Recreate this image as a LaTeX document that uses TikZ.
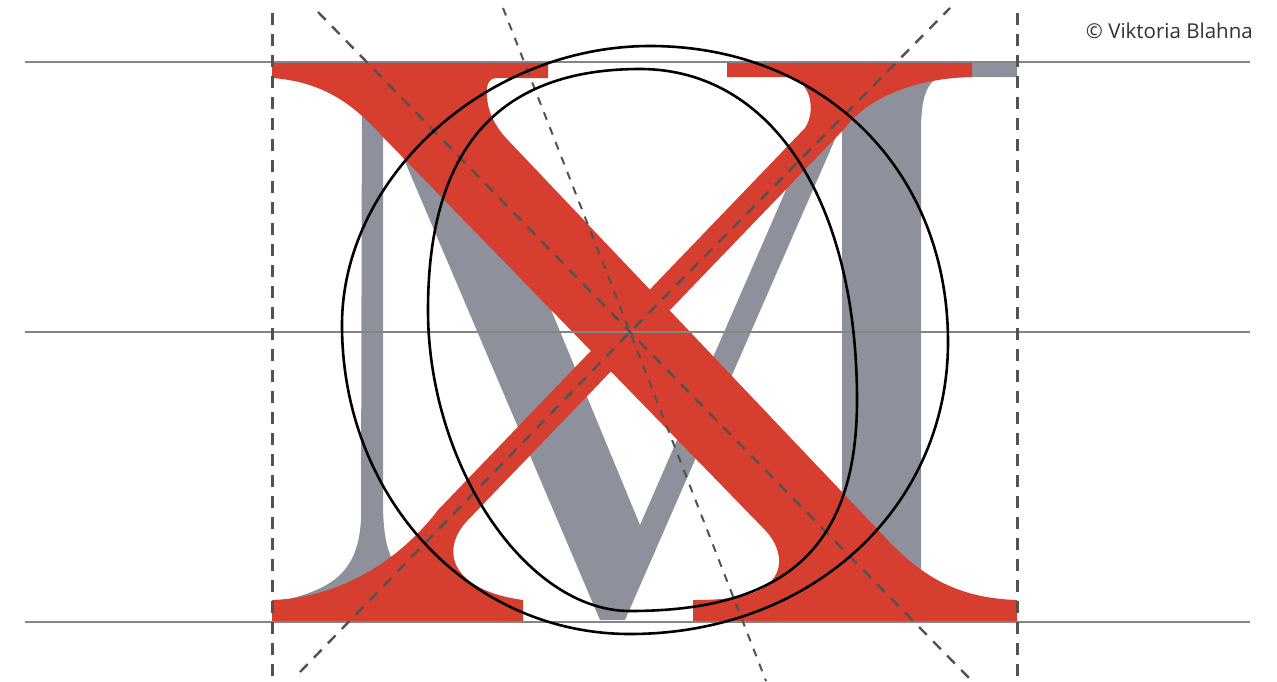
\documentclass[tikz,border=0pt]{standalone}
\usepackage{fontspec}
\setmainfont{Open Sans}
\begin{document}
\begin{tikzpicture}
% Letter construction sketch on a pixel grid
\def\pxsz{1pt}
\providecommand{\sketchGuideColor}{black!48}
\providecommand{\sketchDashColor}{black!68}
\providecommand{\sketchGuideWidth}{2pt}
\providecommand{\sketchDashWidth}{3pt}
\providecommand{\sketchRingWidth}{2.6pt}
\begin{scope}[x=\pxsz, y=-\pxsz, line join=round]
  \useasboundingbox (0,0) rectangle (1277,681);
  % Grey M behind
  \begin{scope}[fill={rgb,1:red,0.557;green,0.569;blue,0.608}, fill opacity=1.000]
    \fill (745,62) rectangle (1017,77);
    \fill (1017,70) -- (1017,77) -- (943,77) .. controls (928,79) and (921,95) .. (921,130) -- (921,610) -- (842,610) -- (842,70) -- cycle;
    \fill (366,70) -- (452,70) -- (640,525) -- (823,105) -- (850,105) -- (625,620) -- (600,620) -- cycle;
    \fill (362,70) -- (383,70) -- (383,500) .. controls (383,540) and (388,556) .. (400,572) -- (400,610) -- (285,610) -- (285,600) .. controls (335,588) and (358,570) .. (361,520) -- cycle;
  \end{scope}
  % Red X on top
  \begin{scope}[fill={rgb,1:red,0.839;green,0.243;blue,0.184}, fill opacity=1.000]
    % thick stroke with its serifs
    \fill (272,62) -- (548,62) -- (548,78) -- (497,78) .. controls (488,78) and (486,86) .. (487,97) .. controls (488,112) and (494,124) .. (505,137)
      -- (880,532) .. controls (915,570) and (950,598) .. (1017,600) -- (1017,622) -- (693,622) -- (693,600)
      .. controls (720,600) and (740,598) .. (755,592) .. controls (785,580) and (785,552) .. (766,531)
      -- (383,137) .. controls (360,112) and (330,82) .. (272,78) -- cycle;
    % thin stroke with its serifs
    \fill (727,62) -- (972,62) -- (972,77) .. controls (920,78) and (870,95) .. (845,128)
      -- (467,521) .. controls (440,550) and (450,590) .. (523,600) -- (523,622) -- (272,622) -- (272,600)
      .. controls (340,598) and (400,560) .. (438,510) -- (805,128) .. controls (816,112) and (812,78) .. (785,77) -- (727,77) -- cycle;
  \end{scope}
  % Guide lines
  \begin{scope}[draw=\sketchGuideColor, line width=\sketchGuideWidth]
    \draw (25,62) -- (1250,62);
    \draw (25,332) -- (1250,332);
    \draw (25,622) -- (1250,622);
  \end{scope}
  % Side limits
  \begin{scope}[draw=\sketchDashColor, line width=\sketchDashWidth, dash pattern=on 12pt off 9pt]
    \draw (272,13) -- (272,681);
    \draw (1017,13) -- (1017,681);
  \end{scope}
  % Axes through the crossing
  \coordinate (mid) at (630,332);
  \begin{scope}[draw=\sketchDashColor, line width=2.4pt, dash pattern=on 11pt off 9pt]
    \draw (318,12) -- (mid) -- (972,681);
    \draw (300,672) -- (mid) -- (950,8);
  \end{scope}
  \begin{scope}[draw=\sketchDashColor, line width=2pt, dash pattern=on 8pt off 8pt]
    \draw (503,8) -- (mid) -- (766,681);
  \end{scope}
  % Outer and inner O
  \begin{scope}[draw=black, line width=\sketchRingWidth]
    \draw (650,46) .. controls (823,46) and (948,170) .. (948,342)
      .. controls (948,508) and (811,634) .. (630,634)
      .. controls (469,634) and (342,498) .. (342,325)
      .. controls (342,177) and (487,46) .. cycle;
    \draw (640,69) .. controls (771,69) and (857,200) .. (857,400)
      .. controls (857,546) and (787,611) .. (630,611)
      .. controls (526,611) and (428,465) .. (428,310)
      .. controls (428,149) and (498,69) .. cycle;
  \end{scope}
  % Credit
  \node[anchor=east, inner sep=0pt, text=black!80, font=\fontsize{20.5}{24}\selectfont] (credit) at (1253,31) {© Viktoria Blahna};
\end{scope}
\end{tikzpicture}
\end{document}
